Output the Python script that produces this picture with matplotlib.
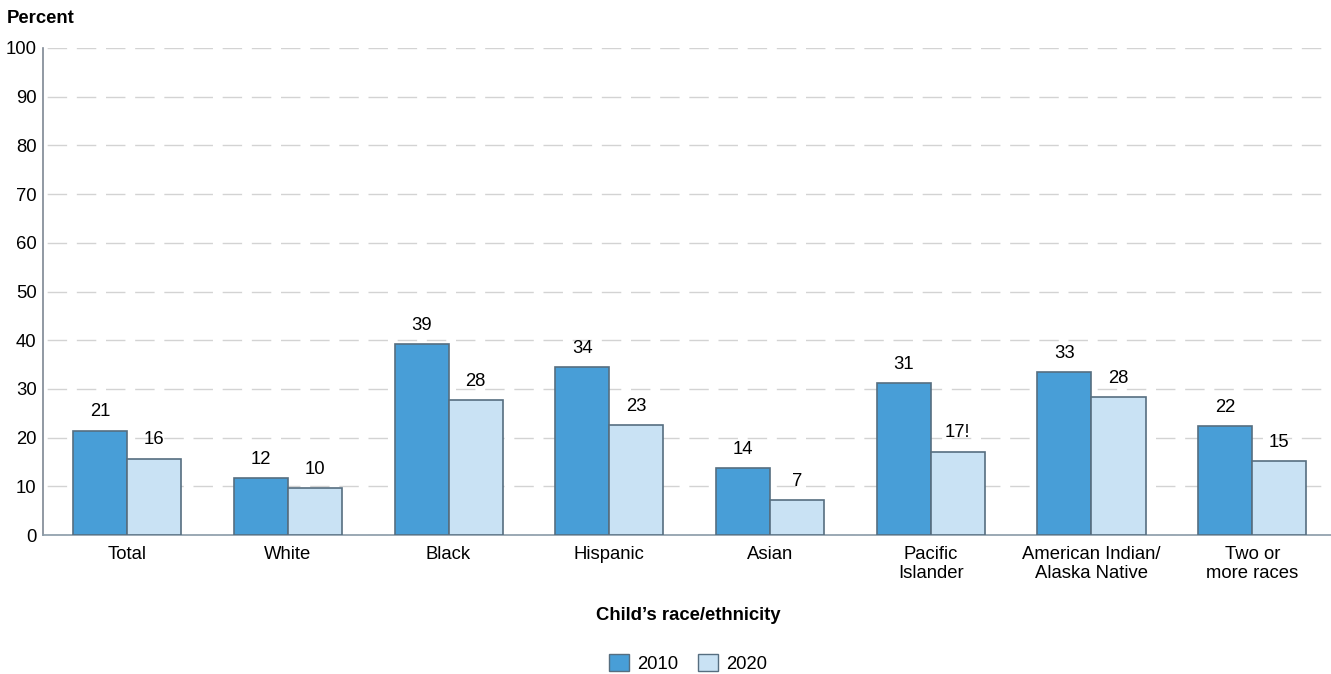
import matplotlib.pyplot as plt
import numpy as np
from matplotlib.patches import Patch

plt.rcParams['font.family'] = ['Liberation Sans', 'DejaVu Sans']

FONT_SIZE = 13.3
categories = ['Total', 'White', 'Black', 'Hispanic', 'Asian', 'Pacific\nIslander',
              'American Indian/\nAlaska Native', 'Two or\nmore races']
pct_2010 = [21.4, 11.7, 39.2, 34.4, 13.7, 31.2, 33.4, 22.4]
pct_2020 = [15.7, 9.6, 27.7, 22.6, 7.1, 17.1, 28.3, 15.2]
# "!" marks estimates to be interpreted with caution
flags_2020 = ['', '', '', '', '', '!', '', '']

c2010 = '#489ED7'
c2020 = '#C9E2F4'
edge = '#566E80'

fig = plt.figure(figsize=(13.31, 6.74), dpi=100)
ax = fig.add_axes([0.0323, 0.2062, 0.9677, 0.7226])

x = np.arange(len(categories))
w = 0.336
b1 = ax.bar(x - w / 2, pct_2010, w, color=c2010, edgecolor=edge, linewidth=1.2, zorder=3)
b2 = ax.bar(x + w / 2, pct_2020, w, color=c2020, edgecolor=edge, linewidth=1.2, zorder=3)

for bars, vals, flags in [(b1, pct_2010, [''] * len(pct_2010)), (b2, pct_2020, flags_2020)]:
    for rect, v, f in zip(bars, vals, flags):
        ax.annotate(f"{v:.0f}{f}", (rect.get_x() + rect.get_width() / 2, v),
                    xytext=(0, 7.5), textcoords='offset points',
                    ha='center', va='bottom', fontsize=FONT_SIZE)

ax.set_xlim(-0.523, 7.49)
ax.set_ylim(0, 100)
ax.set_yticks(np.arange(0, 101, 10))
ax.set_xticks(x)
ax.set_xticklabels(categories, fontsize=FONT_SIZE, linespacing=1.15)
ax.tick_params(axis='y', length=0, pad=4.5, labelsize=FONT_SIZE)
ax.tick_params(axis='x', length=0, pad=8)

ax.yaxis.grid(True, color='#D3D3D3', linestyle=(18, (14, 7)), linewidth=1, zorder=0)
ax.set_axisbelow(True)
for s in ['top', 'right']:
    ax.spines[s].set_visible(False)
ax.spines['left'].set_color('#7E8894')
ax.spines['bottom'].set_color('#8A9BA8')
ax.spines['left'].set_linewidth(1.2)
ax.spines['bottom'].set_linewidth(1.2)

fig.text(0.005, 0.973, 'Percent', fontsize=FONT_SIZE, fontweight='bold', va='center')
fig.text(0.517, 0.080, 'Child\u2019s race/ethnicity', fontsize=FONT_SIZE,
         fontweight='bold', ha='center', va='baseline')

handles = [Patch(facecolor=c2010, edgecolor=edge, label='2010'),
           Patch(facecolor=c2020, edgecolor=edge, label='2020')]
fig.legend(handles=handles, loc='center', bbox_to_anchor=(0.517, 0.0156), ncol=2,
           frameon=False, fontsize=FONT_SIZE, handlelength=1.08, handleheight=1.05,
           handletextpad=0.43, columnspacing=1.08, borderpad=0, borderaxespad=0)

plt.savefig('out.png', dpi=100)
